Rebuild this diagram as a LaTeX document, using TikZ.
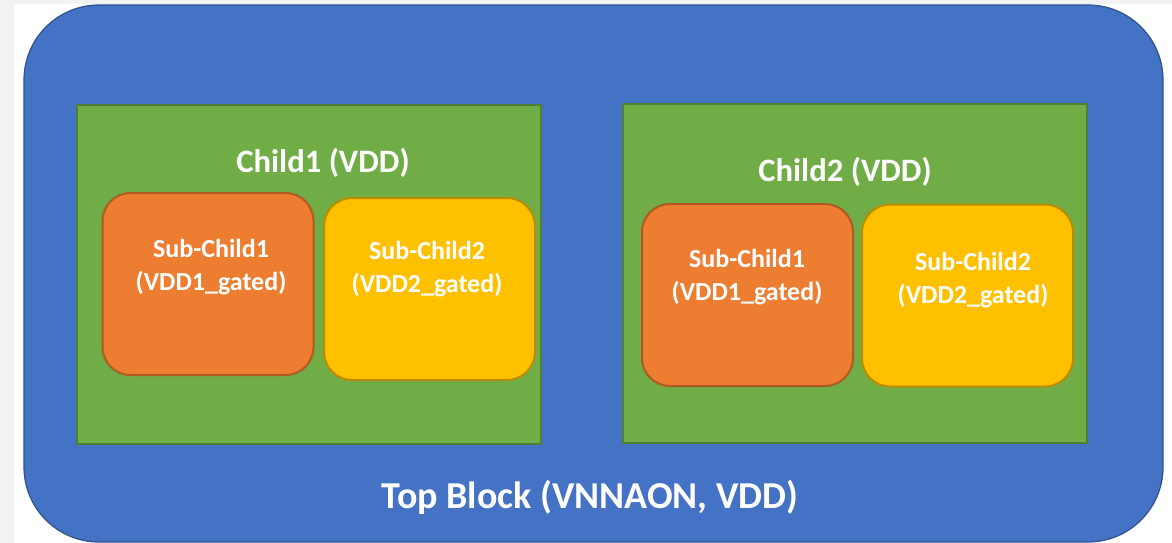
\documentclass[tikz,border=0pt]{standalone}
\usepackage{fontspec}
\setmainfont{Carlito}
\usepackage{xcolor}
\usepackage{tikz}
\usetikzlibrary{positioning}
\definecolor{topblue}{RGB}{68,114,196}
\definecolor{topedge}{RGB}{47,82,143}
\definecolor{childgreen}{RGB}{112,173,71}
\definecolor{childedge}{RGB}{80,126,50}
\definecolor{suborange}{RGB}{237,125,49}
\definecolor{subedgeo}{RGB}{174,90,33}
\definecolor{subyellow}{RGB}{255,192,0}
\definecolor{subedgey}{RGB}{188,140,0}
\definecolor{pagegray}{RGB}{242,242,242}

\begin{document}
\begin{tikzpicture}[
  x=1pt, y=-1pt,
  every node/.style={font=\bfseries, text=white},
  topbox/.style={draw=topedge, line width=1.2pt, fill=topblue, rounded corners=75pt, minimum width=1139pt, minimum height=537pt, inner sep=0pt},
  childbox/.style={draw=childedge, line width=2pt, fill=childgreen, minimum width=464pt, minimum height=339pt, inner sep=0pt},
  subbox/.style={line width=2pt, rounded corners=28pt, minimum width=211pt, minimum height=182pt, inner sep=0pt},
  gated1/.style={subbox, draw=subedgeo, fill=suborange},
  gated2/.style={subbox, draw=subedgey, fill=subyellow},
  childlabel/.style={font=\fontsize{32.7}{38}\selectfont\bfseries},
  sublabel/.style={font=\fontsize{26}{33}\selectfont\bfseries, align=center, inner sep=0pt}
]
  % page
  \fill[pagegray] (0,0) rectangle (1172,543);
  \fill[white] (14,4) rectangle (1172,543);
  \useasboundingbox (0,0) rectangle (1172,543);

  % top block
  \node[topbox] (top) at (593.5,273.5) {};
  \node[font=\fontsize{38}{44}\selectfont\bfseries] (toplbl) at (590,497) {Top Block (VNNAON, VDD)};

  % children
  \node[childbox] (child1) at (309,274.5) {};
  \node[childbox] (child2) at (855,273.5) {};
  \node[childlabel] (c1lbl) at (323,163) {Child1 (VDD)};
  \node[childlabel] (c2lbl) at (845,172) {Child2 (VDD)};

  % sub-children of Child1
  \node[gated1] (sub11) at (208,284) {};
  \node[gated2] (sub12) at (429.5,289) {};
  \node[sublabel] (s11lbl) at (211,267) {Sub-Child1\\(VDD1\_gated)};
  \node[sublabel] (s12lbl) at (427,269) {Sub-Child2\\(VDD2\_gated)};

  % sub-children of Child2
  \node[gated1] (sub21) at (747.5,295) {};
  \node[gated2] (sub22) at (967.5,295.5) {};
  \node[sublabel] (s21lbl) at (747,277) {Sub-Child1\\(VDD1\_gated)};
  \node[sublabel] (s22lbl) at (973,280) {Sub-Child2\\(VDD2\_gated)};
\end{tikzpicture}
\end{document}
